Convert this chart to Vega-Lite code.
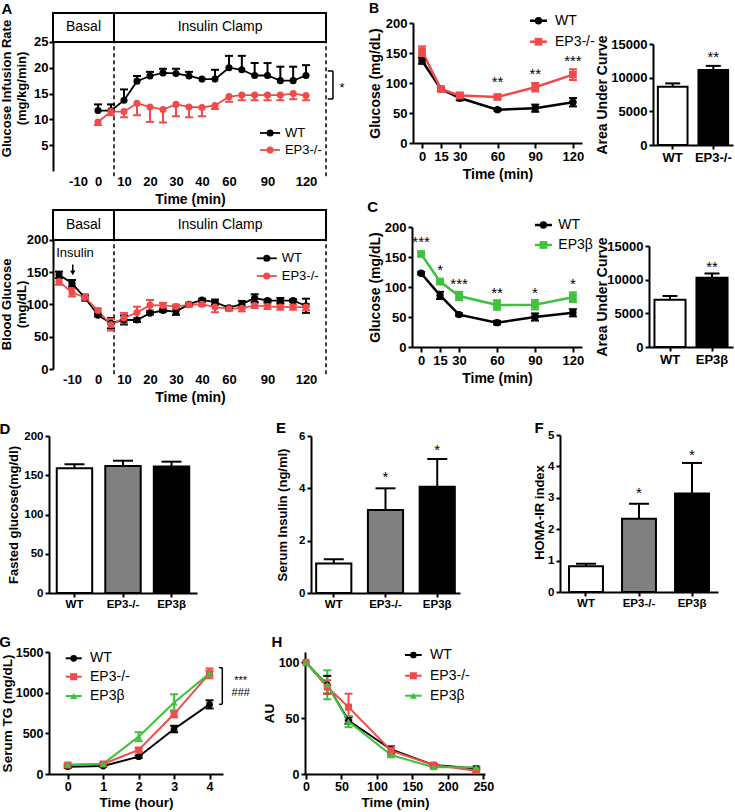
{
"$schema": "https://vega.github.io/schema/vega-lite/v6.json",
"width": 735, "height": 812,
"autosize": {"type": "none"},
"padding": 0,
"background": "white",
"config": {
  "font": "Liberation Sans",
  "view": {"stroke": null},
  "axis": {"grid": false, "labelFont": "Liberation Sans", "labelFontWeight": "bold", "labelColor": "black", "labelFontSize": 13,
    "titleFont": "Liberation Sans", "titleFontWeight": "bold", "titleColor": "black", "titleFontSize": 13,
    "domainColor": "black", "domainWidth": 2, "tickColor": "black", "tickWidth": 2, "tickSize": 4, "labelPadding": 2,
    "labelFlush": false, "labelOverlap": false, "labelBound": false, "minExtent": 0, "maxExtent": 300},
  "text": {"font": "Liberation Sans", "color": "black"}
},
"datasets": {
  "gir": [
    {"t":0,"g":"WT","m":11.7,"lo":11.7,"hi":12.9},{"t":5,"g":"WT","m":11.7,"lo":11.7,"hi":12.9},{"t":10,"g":"WT","m":13.7,"lo":13.7,"hi":15.8},
    {"t":15,"g":"WT","m":17.4,"lo":17.4,"hi":18.4},{"t":20,"g":"WT","m":18.4,"lo":18.4,"hi":19.2},{"t":25,"g":"WT","m":19.0,"lo":19.0,"hi":19.8},
    {"t":30,"g":"WT","m":18.9,"lo":18.9,"hi":19.8},{"t":35,"g":"WT","m":18.4,"lo":18.4,"hi":19.2},{"t":40,"g":"WT","m":17.8,"lo":17.8,"hi":17.8},
    {"t":45,"g":"WT","m":17.8,"lo":17.8,"hi":19.6},{"t":60,"g":"WT","m":20.0,"lo":20.0,"hi":22.3},{"t":70,"g":"WT","m":19.6,"lo":19.6,"hi":22.3},
    {"t":80,"g":"WT","m":18.5,"lo":18.5,"hi":20.9},{"t":90,"g":"WT","m":18.5,"lo":18.5,"hi":20.9},{"t":100,"g":"WT","m":17.5,"lo":17.5,"hi":20.2},
    {"t":110,"g":"WT","m":17.5,"lo":17.5,"hi":20.2},{"t":120,"g":"WT","m":18.5,"lo":18.5,"hi":20.5},
    {"t":0,"g":"EP3-/-","m":9.5,"lo":8.9,"hi":9.5},{"t":5,"g":"EP3-/-","m":11.5,"lo":10.8,"hi":11.5},{"t":10,"g":"EP3-/-","m":11.5,"lo":10.4,"hi":11.5},
    {"t":15,"g":"EP3-/-","m":13.1,"lo":10.8,"hi":13.1},{"t":20,"g":"EP3-/-","m":12.4,"lo":9.5,"hi":12.4},{"t":25,"g":"EP3-/-","m":11.9,"lo":9.4,"hi":11.9},
    {"t":30,"g":"EP3-/-","m":12.9,"lo":10.6,"hi":12.9},{"t":35,"g":"EP3-/-","m":12.4,"lo":10.4,"hi":12.4},{"t":40,"g":"EP3-/-","m":12.3,"lo":10.6,"hi":12.3},
    {"t":45,"g":"EP3-/-","m":12.7,"lo":12.0,"hi":12.7},{"t":60,"g":"EP3-/-","m":14.4,"lo":13.4,"hi":14.4},{"t":70,"g":"EP3-/-","m":14.7,"lo":13.7,"hi":14.7},
    {"t":80,"g":"EP3-/-","m":14.7,"lo":13.7,"hi":14.7},{"t":90,"g":"EP3-/-","m":14.7,"lo":13.7,"hi":14.7},{"t":100,"g":"EP3-/-","m":14.7,"lo":13.7,"hi":14.7},
    {"t":110,"g":"EP3-/-","m":15.0,"lo":13.9,"hi":15.0},{"t":120,"g":"EP3-/-","m":14.6,"lo":13.7,"hi":14.6}
  ],
  "bg": [
    {"t":-15,"g":"WT","m":146,"lo":141,"hi":151},{"t":-10,"g":"WT","m":133,"lo":128,"hi":138},{"t":-5,"g":"WT","m":110,"lo":106,"hi":114},
    {"t":0,"g":"WT","m":83.5,"lo":81.5,"hi":85.5},{"t":5,"g":"WT","m":71,"lo":63,"hi":79},{"t":10,"g":"WT","m":76,"lo":69,"hi":83},
    {"t":15,"g":"WT","m":76,"lo":73,"hi":79},{"t":20,"g":"WT","m":86.6,"lo":84.6,"hi":88.6},{"t":25,"g":"WT","m":90.7,"lo":88.7,"hi":92.7},
    {"t":30,"g":"WT","m":89,"lo":84,"hi":94},{"t":35,"g":"WT","m":100.5,"lo":98.5,"hi":102.5},{"t":40,"g":"WT","m":107,"lo":105,"hi":109},
    {"t":45,"g":"WT","m":103.6,"lo":99.6,"hi":107.6},{"t":60,"g":"WT","m":95,"lo":93,"hi":97},{"t":70,"g":"WT","m":100.5,"lo":95.5,"hi":105.5},
    {"t":80,"g":"WT","m":110,"lo":104,"hi":116},{"t":90,"g":"WT","m":106,"lo":104,"hi":108},{"t":100,"g":"WT","m":106,"lo":102,"hi":110},
    {"t":110,"g":"WT","m":106,"lo":104,"hi":108},{"t":120,"g":"WT","m":98,"lo":87,"hi":109},
    {"t":-15,"g":"EP3-/-","m":135.6,"lo":130.6,"hi":140.6},{"t":-10,"g":"EP3-/-","m":118.6,"lo":112.6,"hi":124.6},{"t":-5,"g":"EP3-/-","m":111,"lo":106,"hi":116},
    {"t":0,"g":"EP3-/-","m":90.7,"lo":87.7,"hi":93.7},{"t":5,"g":"EP3-/-","m":68.6,"lo":59.6,"hi":77.6},{"t":10,"g":"EP3-/-","m":79,"lo":71,"hi":87},
    {"t":15,"g":"EP3-/-","m":87.6,"lo":78.6,"hi":96.6},{"t":20,"g":"EP3-/-","m":99,"lo":91,"hi":107},{"t":25,"g":"EP3-/-","m":98.5,"lo":94.5,"hi":102.5},
    {"t":30,"g":"EP3-/-","m":97,"lo":94,"hi":100},{"t":35,"g":"EP3-/-","m":99.5,"lo":96.5,"hi":102.5},{"t":40,"g":"EP3-/-","m":100.5,"lo":97.5,"hi":103.5},
    {"t":45,"g":"EP3-/-","m":96,"lo":88,"hi":104},{"t":60,"g":"EP3-/-","m":93.3,"lo":90.3,"hi":96.3},{"t":70,"g":"EP3-/-","m":94.3,"lo":89.3,"hi":99.3},
    {"t":80,"g":"EP3-/-","m":98.5,"lo":94.5,"hi":102.5},{"t":90,"g":"EP3-/-","m":97,"lo":93,"hi":101},{"t":100,"g":"EP3-/-","m":96,"lo":92,"hi":100},
    {"t":110,"g":"EP3-/-","m":96,"lo":92,"hi":100},{"t":120,"g":"EP3-/-","m":96,"lo":91,"hi":101}
  ],
  "itt": [
    {"t":0,"g":"WT","m":137,"lo":132,"hi":142},{"t":15,"g":"WT","m":90,"lo":87,"hi":93},{"t":30,"g":"WT","m":75,"lo":71,"hi":79},
    {"t":60,"g":"WT","m":55.6,"lo":53.6,"hi":57.6},{"t":90,"g":"WT","m":58,"lo":52,"hi":64},{"t":120,"g":"WT","m":68,"lo":61,"hi":75},
    {"t":0,"g":"EP3-/-","m":153,"lo":145,"hi":161},{"t":15,"g":"EP3-/-","m":90,"lo":87,"hi":93},{"t":30,"g":"EP3-/-","m":79,"lo":74,"hi":84},
    {"t":60,"g":"EP3-/-","m":76.7,"lo":73.7,"hi":79.7},{"t":90,"g":"EP3-/-","m":93,"lo":86,"hi":100},{"t":120,"g":"EP3-/-","m":114,"lo":105,"hi":123}
  ],
  "ittb": [
    {"t":0,"g":"WT","m":123,"lo":121,"hi":125},{"t":15,"g":"WT","m":86,"lo":80,"hi":92},{"t":30,"g":"WT","m":54,"lo":52,"hi":56},
    {"t":60,"g":"WT","m":40.6,"lo":37.6,"hi":43.6},{"t":90,"g":"WT","m":50,"lo":44,"hi":56},{"t":120,"g":"WT","m":57,"lo":51,"hi":63},
    {"t":0,"g":"EP3β","m":155,"lo":152,"hi":158},{"t":15,"g":"EP3β","m":109,"lo":106,"hi":112},{"t":30,"g":"EP3β","m":85,"lo":78,"hi":92},
    {"t":60,"g":"EP3β","m":70,"lo":62,"hi":78},{"t":90,"g":"EP3β","m":70.5,"lo":62.5,"hi":78.5},{"t":120,"g":"EP3β","m":83,"lo":75,"hi":91}
  ],
  "tg": [
    {"t":0,"g":"WT","m":90,"lo":75,"hi":105},{"t":1,"g":"WT","m":98,"lo":88,"hi":108},{"t":2,"g":"WT","m":213,"lo":198,"hi":228},
    {"t":3,"g":"WT","m":553,"lo":513,"hi":593},{"t":4,"g":"WT","m":856,"lo":806,"hi":906},
    {"t":0,"g":"EP3-/-","m":110,"lo":95,"hi":125},{"t":1,"g":"EP3-/-","m":123,"lo":113,"hi":133},{"t":2,"g":"EP3-/-","m":295,"lo":275,"hi":315},
    {"t":3,"g":"EP3-/-","m":737,"lo":697,"hi":777},{"t":4,"g":"EP3-/-","m":1237,"lo":1177,"hi":1297},
    {"t":0,"g":"EP3β","m":115,"lo":105,"hi":125},{"t":1,"g":"EP3β","m":125,"lo":115,"hi":135},{"t":2,"g":"EP3β","m":459,"lo":404,"hi":514},
    {"t":3,"g":"EP3β","m":880,"lo":780,"hi":980},{"t":4,"g":"EP3β","m":1237,"lo":1207,"hi":1267}
  ],
  "au": [
    {"t":0,"g":"WT","m":100,"lo":100,"hi":100},{"t":30,"g":"WT","m":80,"lo":72,"hi":88},{"t":60,"g":"WT","m":48,"lo":45,"hi":51},
    {"t":120,"g":"WT","m":22,"lo":19,"hi":25},{"t":180,"g":"WT","m":8,"lo":7,"hi":9},{"t":240,"g":"WT","m":5,"lo":4,"hi":6},
    {"t":0,"g":"EP3-/-","m":100,"lo":100,"hi":100},{"t":30,"g":"EP3-/-","m":78,"lo":72,"hi":84},{"t":60,"g":"EP3-/-","m":60,"lo":48,"hi":72},
    {"t":120,"g":"EP3-/-","m":21,"lo":17,"hi":25},{"t":180,"g":"EP3-/-","m":8,"lo":7,"hi":9},{"t":240,"g":"EP3-/-","m":3,"lo":2,"hi":4},
    {"t":0,"g":"EP3β","m":100,"lo":100,"hi":100},{"t":30,"g":"EP3β","m":80,"lo":67,"hi":93},{"t":60,"g":"EP3β","m":47,"lo":42,"hi":52},
    {"t":120,"g":"EP3β","m":17,"lo":15,"hi":19},{"t":180,"g":"EP3β","m":6,"lo":5,"hi":7},{"t":240,"g":"EP3β","m":6,"lo":5,"hi":7}
  ],
  "aucB": [{"g":"WT","m":8650,"hi":9150},{"g":"EP3-/-","m":11150,"hi":11750}],
  "aucC": [{"g":"WT","m":7000,"hi":7580},{"g":"EP3β","m":10300,"hi":10920}],
  "fg": [{"g":"WT","m":159,"hi":164},{"g":"EP3-/-","m":161.8,"hi":168.5},{"g":"EP3β","m":161,"hi":167.3}],
  "ins": [{"g":"WT","m":1.13,"hi":1.29},{"g":"EP3-/-","m":3.17,"hi":4.0},{"g":"EP3β","m":4.06,"hi":5.12}],
  "homa": [{"g":"WT","m":0.82,"hi":0.9},{"g":"EP3-/-","m":2.33,"hi":2.81},{"g":"EP3β","m":3.14,"hi":4.11}]
},
"resolve": {
  "scale": {"x": "independent", "y": "independent", "color": "independent", "stroke": "independent", "fill": "independent"},
  "axis": {"x": "independent", "y": "independent"}
},
"layer": [
{
  "data": {"name": "gir"},
  "layer": [
    {"data": {"values": [{"p":"Basal","s":-22.5,"e":6.15,"c":-7.25},{"p":"Insulin Clamp","s":6.15,"e":135.6,"c":50.4}]},
     "layer": [
      {"mark": {"type":"rect","fill":"white","stroke":"black","strokeWidth":2},
       "encoding": {
        "x": {"field":"s","type":"quantitative","scale":{"type":"linear","domain":[-10,0,45,60,120],"range":[78,98,215,229,306],"nice":false,"zero":false},
              "axis":{"orient":"bottom","offset":-641,"values":[-10,0,10,20,30,40,60,90,120],"labelExpr":"'' + datum.value","domain":false,"ticks":false,"labelPadding":4,"title":"Time (min)","titleFontSize":14,"titlePadding":4,"titleX":190}},
        "x2": {"field":"e"},
        "y": {"datum":25,"type":"quantitative","scale":{"domain":[0,30.6],"range":[171,13],"nice":false,"zero":false},
              "axis":{"orient":"left","offset":-53,"values":[5,10,15,20,25],"title":["Glucose Infusion Rate","(mg/kg/min)"],"titleX":-40,"titleY":88,"labelPadding":1}},
        "y2": {"datum":30.6}}},
      {"mark": {"type":"text","fontSize":14,"baseline":"middle"},
       "encoding": {"x":{"field":"c","type":"quantitative"},"y":{"datum":27.8,"type":"quantitative"},"text":{"field":"p"}}}
     ]},
    {"data": {"values":[{}]}, "mark": {"type":"rule","strokeDash":[4,3],"strokeWidth":1.5,"color":"black"},
     "encoding": {"x":{"datum":6.15,"type":"quantitative"},"y":{"datum":-1,"type":"quantitative"},"y2":{"datum":25}}},
    {"data": {"values":[{}]}, "mark": {"type":"rule","strokeDash":[4,3],"strokeWidth":1.5,"color":"black"},
     "encoding": {"x":{"datum":135.6,"type":"quantitative"},"y":{"datum":-1,"type":"quantitative"},"y2":{"datum":25}}},
    {"mark": {"type":"rule","strokeWidth":2},
     "encoding": {"x":{"field":"t","type":"quantitative"},"y":{"field":"lo","type":"quantitative"},"y2":{"field":"hi"},
      "stroke":{"field":"g","type":"nominal","scale":{"domain":["WT","EP3-/-"],"range":["black","#ef4b4b"]},"legend":null}}},
    {"transform":[{"filter":"datum.hi > datum.m"}],"mark": {"type":"tick","orient":"horizontal","size":8,"thickness":2,"opacity":1},
     "encoding": {"x":{"field":"t","type":"quantitative"},"y":{"field":"hi","type":"quantitative"},
      "fill":{"field":"g","type":"nominal","scale":{"domain":["WT","EP3-/-"],"range":["black","#ef4b4b"]},"legend":null}}},
    {"transform":[{"filter":"datum.lo < datum.m"}],"mark": {"type":"tick","orient":"horizontal","size":8,"thickness":2,"opacity":1},
     "encoding": {"x":{"field":"t","type":"quantitative"},"y":{"field":"lo","type":"quantitative"},
      "fill":{"field":"g","type":"nominal","scale":{"domain":["WT","EP3-/-"],"range":["black","#ef4b4b"]},"legend":null}}},
    {"mark": {"type":"line","strokeWidth":1.8},
     "encoding": {"x":{"field":"t","type":"quantitative"},"y":{"field":"m","type":"quantitative"},
      "stroke":{"field":"g","type":"nominal","scale":{"domain":["WT","EP3-/-"],"range":["black","#ef4b4b"]},"legend":null}}},
    {"mark": {"type":"point","filled":true,"shape":"circle","size":50,"opacity":1},
     "encoding": {"x":{"field":"t","type":"quantitative"},"y":{"field":"m","type":"quantitative"},
      "color":{"field":"g","type":"nominal","scale":{"domain":["WT","EP3-/-"],"range":["black","#ef4b4b"]},"legend":null}}},
    {"data": {"values":[{}]}, "encoding": {"y":{"datum":7.36,"type":"quantitative"}}, "layer": [
      {"mark":{"type":"rule","color":"black","strokeWidth":1.8},"encoding":{"x":{"datum":84.2,"type":"quantitative"},"x2":{"datum":99.8}}},
      {"mark":{"type":"point","shape":"circle","filled":true,"size":50,"color":"black","opacity":1},"encoding":{"x":{"datum":92,"type":"quantitative"}}},
      {"mark":{"type":"text","align":"left","baseline":"middle","fontSize":13},"encoding":{"x":{"datum":103.6,"type":"quantitative"},"text":{"value":"WT"}}}
    ]},
    {"data": {"values":[{}]}, "encoding": {"y":{"datum":4.07,"type":"quantitative"}}, "layer": [
      {"mark":{"type":"rule","color":"#ef4b4b","strokeWidth":1.8},"encoding":{"x":{"datum":84.2,"type":"quantitative"},"x2":{"datum":99.8}}},
      {"mark":{"type":"point","shape":"circle","filled":true,"size":50,"color":"#ef4b4b","opacity":1},"encoding":{"x":{"datum":92,"type":"quantitative"}}},
      {"mark":{"type":"text","align":"left","baseline":"middle","fontSize":13},"encoding":{"x":{"datum":103.6,"type":"quantitative"},"text":{"value":"EP3-/-"}}}
    ]},
    {"data": {"values":[{}]}, "mark": {"type":"rule","strokeWidth":1.5,"color":"black"},
     "encoding": {"x":{"datum":141,"type":"quantitative"},"y":{"datum":13.95,"type":"quantitative"},"y2":{"datum":19.37}}},
    {"data": {"values":[{}]}, "mark": {"type":"rule","strokeWidth":1.5,"color":"black"},
     "encoding": {"x":{"datum":137,"type":"quantitative"},"x2":{"datum":141},"y":{"datum":19.37,"type":"quantitative"}}},
    {"data": {"values":[{}]}, "mark": {"type":"rule","strokeWidth":1.5,"color":"black"},
     "encoding": {"x":{"datum":137,"type":"quantitative"},"x2":{"datum":141},"y":{"datum":13.95,"type":"quantitative"}}},
    {"data": {"values":[{}]}, "mark": {"type":"text","fontSize":13,"baseline":"middle","dy":4},
     "encoding": {"x":{"datum":148,"type":"quantitative"},"y":{"datum":16.9,"type":"quantitative"},"text":{"value":"*"}}},
    {"data": {"values":[{}]}, "mark": {"type":"text","fontSize":15,"fontWeight":"bold","baseline":"middle"},
     "encoding": {"x":{"datum":-45.5,"type":"quantitative"},"y":{"datum":31.4,"type":"quantitative"},"text":{"value":"A"}}}
  ]
},
{
  "data": {"name": "bg"},
  "layer": [
    {"data": {"values": [{"p":"Basal","s":-17.3,"e":6.15,"c":-5.6},{"p":"Insulin Clamp","s":6.15,"e":135.6,"c":50.4}]},
     "layer": [
      {"mark": {"type":"rect","fill":"white","stroke":"black","strokeWidth":2},
       "encoding": {
        "x": {"field":"s","type":"quantitative","scale":{"type":"linear","domain":[-15,0,45,60,120],"range":[59,98,215,229,306],"nice":false,"zero":false},
              "axis":{"orient":"bottom","offset":-443,"values":[-10,0,10,20,30,40,60,90,120],"labelExpr":"'' + datum.value","domain":false,"ticks":false,"labelPadding":4,"title":"Time (min)","titleFontSize":14,"titlePadding":4,"titleX":190}},
        "x2": {"field":"e"},
        "y": {"datum":200,"type":"quantitative","scale":{"domain":[0,246.5],"range":[369,210],"nice":false,"zero":false},
              "axis":{"orient":"left","offset":-53,"values":[0,50,100,150,200],"title":["Blood Glucose","(mg/dL)"],"titleX":-40,"titleY":304,"labelPadding":1}},
        "y2": {"datum":246.5}}},
      {"mark": {"type":"text","fontSize":14,"baseline":"middle"},
       "encoding": {"x":{"field":"c","type":"quantitative"},"y":{"datum":223,"type":"quantitative"},"text":{"field":"p"}}}
     ]},
    {"data": {"values":[{}]}, "mark": {"type":"rule","strokeDash":[4,3],"strokeWidth":1.5,"color":"black"},
     "encoding": {"x":{"datum":6.15,"type":"quantitative"},"y":{"datum":-8,"type":"quantitative"},"y2":{"datum":200}}},
    {"data": {"values":[{}]}, "mark": {"type":"rule","strokeDash":[4,3],"strokeWidth":1.5,"color":"black"},
     "encoding": {"x":{"datum":135.6,"type":"quantitative"},"y":{"datum":-8,"type":"quantitative"},"y2":{"datum":200}}},
    {"mark": {"type":"rule","strokeWidth":2},
     "encoding": {"x":{"field":"t","type":"quantitative"},"y":{"field":"lo","type":"quantitative"},"y2":{"field":"hi"},
      "stroke":{"field":"g","type":"nominal","scale":{"domain":["WT","EP3-/-"],"range":["black","#ef4b4b"]},"legend":null}}},
    {"transform":[{"filter":"datum.hi > datum.m"}],"mark": {"type":"tick","orient":"horizontal","size":8,"thickness":2,"opacity":1},
     "encoding": {"x":{"field":"t","type":"quantitative"},"y":{"field":"hi","type":"quantitative"},
      "fill":{"field":"g","type":"nominal","scale":{"domain":["WT","EP3-/-"],"range":["black","#ef4b4b"]},"legend":null}}},
    {"transform":[{"filter":"datum.lo < datum.m"}],"mark": {"type":"tick","orient":"horizontal","size":8,"thickness":2,"opacity":1},
     "encoding": {"x":{"field":"t","type":"quantitative"},"y":{"field":"lo","type":"quantitative"},
      "fill":{"field":"g","type":"nominal","scale":{"domain":["WT","EP3-/-"],"range":["black","#ef4b4b"]},"legend":null}}},
    {"mark": {"type":"line","strokeWidth":1.8},
     "encoding": {"x":{"field":"t","type":"quantitative"},"y":{"field":"m","type":"quantitative"},
      "stroke":{"field":"g","type":"nominal","scale":{"domain":["WT","EP3-/-"],"range":["black","#ef4b4b"]},"legend":null}}},
    {"mark": {"type":"point","filled":true,"shape":"circle","size":50,"opacity":1},
     "encoding": {"x":{"field":"t","type":"quantitative"},"y":{"field":"m","type":"quantitative"},
      "color":{"field":"g","type":"nominal","scale":{"domain":["WT","EP3-/-"],"range":["black","#ef4b4b"]},"legend":null}}},
    {"data": {"values":[{}]}, "encoding": {"y":{"datum":171.6,"type":"quantitative"}}, "layer": [
      {"mark":{"type":"rule","color":"black","strokeWidth":1.8},"encoding":{"x":{"datum":81.6,"type":"quantitative"},"x2":{"datum":97.2}}},
      {"mark":{"type":"point","shape":"circle","filled":true,"size":50,"color":"black","opacity":1},"encoding":{"x":{"datum":89.4,"type":"quantitative"}}},
      {"mark":{"type":"text","align":"left","baseline":"middle","fontSize":13},"encoding":{"x":{"datum":101.1,"type":"quantitative"},"text":{"value":"WT"}}}
    ]},
    {"data": {"values":[{}]}, "encoding": {"y":{"datum":144.2,"type":"quantitative"}}, "layer": [
      {"mark":{"type":"rule","color":"#ef4b4b","strokeWidth":1.8},"encoding":{"x":{"datum":81.6,"type":"quantitative"},"x2":{"datum":97.2}}},
      {"mark":{"type":"point","shape":"circle","filled":true,"size":50,"color":"#ef4b4b","opacity":1},"encoding":{"x":{"datum":89.4,"type":"quantitative"}}},
      {"mark":{"type":"text","align":"left","baseline":"middle","fontSize":13},"encoding":{"x":{"datum":101.1,"type":"quantitative"},"text":{"value":"EP3-/-"}}}
    ]},
    {"data": {"values":[{}]}, "mark": {"type":"text","fontSize":13,"baseline":"middle"},
     "encoding": {"x":{"datum":-8.85,"type":"quantitative"},"y":{"datum":179.4,"type":"quantitative"},"text":{"value":"Insulin"}}},
    {"data": {"values":[{}]}, "mark": {"type":"rule","strokeWidth":1.5,"color":"black"},
     "encoding": {"x":{"datum":-9.7,"type":"quantitative"},"y":{"datum":162,"type":"quantitative"},"y2":{"datum":150}}},
    {"data": {"values":[{}]}, "mark": {"type":"point","shape":"triangle-down","filled":true,"size":28,"color":"black","opacity":1},
     "encoding": {"x":{"datum":-9.7,"type":"quantitative"},"y":{"datum":149,"type":"quantitative"}}}
  ]
},
{
  "data": {"name": "itt"},
  "layer": [
    {"mark": {"type":"rule","strokeWidth":2},
     "encoding": {
      "x":{"field":"t","type":"quantitative","scale":{"domain":[-7.2,127.2],"range":[413,582],"nice":false,"zero":false},
           "axis":{"orient":"bottom","offset":-669,"values":[0,15,30,60,90,120],"title":"Time (min)","tickSize":5,"labelPadding":2,"titleFontSize":14,"titlePadding":4}},
      "y":{"field":"lo","type":"quantitative","scale":{"domain":[0,200],"range":[143,23],"nice":false,"zero":false},
           "axis":{"orient":"left","offset":-413,"values":[0,50,100,150,200],"title":"Glucose (mg/dL)","titleX":-31,"titleFontSize":14}},
      "y2":{"field":"hi"},
      "stroke":{"field":"g","type":"nominal","scale":{"domain":["WT","EP3-/-"],"range":["black","#ef4b4b"]},"legend":null}}},
    {"transform":[{"filter":"datum.hi > datum.m"}],"mark": {"type":"tick","orient":"horizontal","size":8,"thickness":2,"opacity":1},
     "encoding": {"x":{"field":"t","type":"quantitative"},"y":{"field":"hi","type":"quantitative"},
      "fill":{"field":"g","type":"nominal","scale":{"domain":["WT","EP3-/-"],"range":["black","#ef4b4b"]},"legend":null}}},
    {"transform":[{"filter":"datum.lo < datum.m"}],"mark": {"type":"tick","orient":"horizontal","size":8,"thickness":2,"opacity":1},
     "encoding": {"x":{"field":"t","type":"quantitative"},"y":{"field":"lo","type":"quantitative"},
      "fill":{"field":"g","type":"nominal","scale":{"domain":["WT","EP3-/-"],"range":["black","#ef4b4b"]},"legend":null}}},
    {"mark": {"type":"line","strokeWidth":2.5},
     "encoding": {"x":{"field":"t","type":"quantitative"},"y":{"field":"m","type":"quantitative"},
      "stroke":{"field":"g","type":"nominal","scale":{"domain":["WT","EP3-/-"],"range":["black","#ef4b4b"]},"legend":null}}},
    {"transform":[{"filter":"datum.g == 'WT'"}],"mark": {"type":"point","filled":true,"shape":"circle","size":55,"opacity":1},
     "encoding": {"x":{"field":"t","type":"quantitative"},"y":{"field":"m","type":"quantitative"},
      "color":{"field":"g","type":"nominal","scale":{"domain":["WT","EP3-/-"],"range":["black","#ef4b4b"]},"legend":null}}},
    {"transform":[{"filter":"datum.g != 'WT'"}],"mark": {"type":"point","filled":true,"shape":"square","size":60,"opacity":1},
     "encoding": {"x":{"field":"t","type":"quantitative"},"y":{"field":"m","type":"quantitative"},
      "color":{"field":"g","type":"nominal","scale":{"domain":["WT","EP3-/-"],"range":["black","#ef4b4b"]},"legend":null}}},
    {"data": {"values":[{}]}, "encoding": {"y":{"datum":203.8,"type":"quantitative"}}, "layer": [
      {"mark":{"type":"rule","color":"black","strokeWidth":2.5},"encoding":{"x":{"datum":85.8,"type":"quantitative"},"x2":{"datum":99.3}}},
      {"mark":{"type":"point","shape":"circle","filled":true,"size":55,"color":"black","opacity":1},"encoding":{"x":{"datum":92.6,"type":"quantitative"}}},
      {"mark":{"type":"text","align":"left","baseline":"middle","fontSize":14},"encoding":{"x":{"datum":105.7,"type":"quantitative"},"text":{"value":"WT"}}}
    ]},
    {"data": {"values":[{}]}, "encoding": {"y":{"datum":168.8,"type":"quantitative"}}, "layer": [
      {"mark":{"type":"rule","color":"#ef4b4b","strokeWidth":2.5},"encoding":{"x":{"datum":85.8,"type":"quantitative"},"x2":{"datum":99.3}}},
      {"mark":{"type":"point","shape":"square","filled":true,"size":60,"color":"#ef4b4b","opacity":1},"encoding":{"x":{"datum":92.6,"type":"quantitative"}}},
      {"mark":{"type":"text","align":"left","baseline":"middle","fontSize":14},"encoding":{"x":{"datum":105.7,"type":"quantitative"},"text":{"value":"EP3-/-"}}}
    ]},
    {"data": {"values":[{"t":60,"v":108,"s":"**"},{"t":90,"v":122,"s":"**"},{"t":120,"v":143,"s":"***"}]},
     "mark": {"type":"text","fontSize":15,"baseline":"middle","dy":4},
     "encoding": {"x":{"field":"t","type":"quantitative"},"y":{"field":"v","type":"quantitative"},"text":{"field":"s"}}},
    {"data": {"values":[{}]}, "mark": {"type":"text","fontSize":14,"fontWeight":"bold","baseline":"middle"},
     "encoding": {"x":{"datum":-38.2,"type":"quantitative"},"y":{"datum":223,"type":"quantitative"},"text":{"value":"B"}}}
  ]
},
{
  "data": {"name": "aucB"},
  "layer": [
    {"mark": {"type":"rule","strokeWidth":2,"color":"black"},
     "encoding": {
      "x":{"field":"g","type":"nominal","scale":{"type":"band","domain":["WT","EP3-/-"],"range":[653,733],"paddingInner":0.27,"paddingOuter":0.12},
           "axis":{"orient":"bottom","offset":-667,"title":null,"labelAngle":0,"tickSize":4,"labelPadding":2}},
      "y":{"field":"m","type":"quantitative","scale":{"domain":[0,15000],"range":[145,44],"nice":false,"zero":false},
           "axis":{"orient":"left","offset":-653,"values":[0,5000,10000,15000],"format":"d","title":"Area Under Curve","titleX":-44,"titleFontSize":14}},
      "y2":{"field":"hi"}}},
    {"mark": {"type":"tick","orient":"horizontal","size":15,"thickness":2,"color":"black","opacity":1},
     "encoding": {"x":{"field":"g","type":"nominal"},"y":{"field":"hi","type":"quantitative"}}},
    {"mark": {"type":"bar","stroke":"black","strokeWidth":2},
     "encoding": {"x":{"field":"g","type":"nominal"},"y":{"field":"m","type":"quantitative"},
      "color":{"field":"g","type":"nominal","scale":{"domain":["WT","EP3-/-"],"range":["white","black"]},"legend":null}}},
    {"data": {"values":[{"g":"EP3-/-","v":13614,"s":"**"}]},
     "mark": {"type":"text","fontSize":15,"baseline":"middle","dy":4},
     "encoding": {"x":{"field":"g","type":"nominal"},"y":{"field":"v","type":"quantitative"},"text":{"field":"s"}}}
  ]
},
{
  "data": {"name": "ittb"},
  "layer": [
    {"mark": {"type":"rule","strokeWidth":2},
     "encoding": {
      "x":{"field":"t","type":"quantitative","scale":{"domain":[-7.2,127.2],"range":[412,582],"nice":false,"zero":false},
           "axis":{"orient":"bottom","offset":-465,"values":[0,15,30,60,90,120],"title":"Time (min)","tickSize":5,"labelPadding":2,"titleFontSize":14,"titlePadding":4}},
      "y":{"field":"lo","type":"quantitative","scale":{"domain":[0,200],"range":[347,227],"nice":false,"zero":false},
           "axis":{"orient":"left","offset":-412,"values":[0,50,100,150,200],"title":"Glucose (mg/dL)","titleX":-30,"titleFontSize":14}},
      "y2":{"field":"hi"},
      "stroke":{"field":"g","type":"nominal","scale":{"domain":["WT","EP3β"],"range":["black","#3ec23e"]},"legend":null}}},
    {"transform":[{"filter":"datum.hi > datum.m"}],"mark": {"type":"tick","orient":"horizontal","size":8,"thickness":2,"opacity":1},
     "encoding": {"x":{"field":"t","type":"quantitative"},"y":{"field":"hi","type":"quantitative"},
      "fill":{"field":"g","type":"nominal","scale":{"domain":["WT","EP3β"],"range":["black","#3ec23e"]},"legend":null}}},
    {"transform":[{"filter":"datum.lo < datum.m"}],"mark": {"type":"tick","orient":"horizontal","size":8,"thickness":2,"opacity":1},
     "encoding": {"x":{"field":"t","type":"quantitative"},"y":{"field":"lo","type":"quantitative"},
      "fill":{"field":"g","type":"nominal","scale":{"domain":["WT","EP3β"],"range":["black","#3ec23e"]},"legend":null}}},
    {"mark": {"type":"line","strokeWidth":2.5},
     "encoding": {"x":{"field":"t","type":"quantitative"},"y":{"field":"m","type":"quantitative"},
      "stroke":{"field":"g","type":"nominal","scale":{"domain":["WT","EP3β"],"range":["black","#3ec23e"]},"legend":null}}},
    {"transform":[{"filter":"datum.g == 'WT'"}],"mark": {"type":"point","filled":true,"shape":"circle","size":55,"opacity":1},
     "encoding": {"x":{"field":"t","type":"quantitative"},"y":{"field":"m","type":"quantitative"},
      "color":{"field":"g","type":"nominal","scale":{"domain":["WT","EP3β"],"range":["black","#3ec23e"]},"legend":null}}},
    {"transform":[{"filter":"datum.g != 'WT'"}],"mark": {"type":"point","filled":true,"shape":"square","size":60,"opacity":1},
     "encoding": {"x":{"field":"t","type":"quantitative"},"y":{"field":"m","type":"quantitative"},
      "color":{"field":"g","type":"nominal","scale":{"domain":["WT","EP3β"],"range":["black","#3ec23e"]},"legend":null}}},
    {"data": {"values":[{}]}, "encoding": {"y":{"datum":203.3,"type":"quantitative"}}, "layer": [
      {"mark":{"type":"rule","color":"black","strokeWidth":2.5},"encoding":{"x":{"datum":90.0,"type":"quantitative"},"x2":{"datum":103.4}}},
      {"mark":{"type":"point","shape":"circle","filled":true,"size":55,"color":"black","opacity":1},"encoding":{"x":{"datum":96.7,"type":"quantitative"}}},
      {"mark":{"type":"text","align":"left","baseline":"middle","fontSize":14},"encoding":{"x":{"datum":108.5,"type":"quantitative"},"text":{"value":"WT"}}}
    ]},
    {"data": {"values":[{}]}, "encoding": {"y":{"datum":170,"type":"quantitative"}}, "layer": [
      {"mark":{"type":"rule","color":"#3ec23e","strokeWidth":2.5},"encoding":{"x":{"datum":90.0,"type":"quantitative"},"x2":{"datum":103.4}}},
      {"mark":{"type":"point","shape":"square","filled":true,"size":60,"color":"#3ec23e","opacity":1},"encoding":{"x":{"datum":96.7,"type":"quantitative"}}},
      {"mark":{"type":"text","align":"left","baseline":"middle","fontSize":14},"encoding":{"x":{"datum":108.5,"type":"quantitative"},"text":{"value":"EP3β"}}}
    ]},
    {"data": {"values":[{"t":0,"v":182,"s":"***"},{"t":15,"v":135,"s":"*"},{"t":30,"v":111,"s":"***"},{"t":60,"v":97,"s":"**"},{"t":90,"v":97,"s":"*"},{"t":120,"v":111,"s":"*"}]},
     "mark": {"type":"text","fontSize":15,"baseline":"middle","dy":4},
     "encoding": {"x":{"field":"t","type":"quantitative"},"y":{"field":"v","type":"quantitative"},"text":{"field":"s"}}},
    {"data": {"values":[{}]}, "mark": {"type":"text","fontSize":15,"fontWeight":"bold","baseline":"middle"},
     "encoding": {"x":{"datum":-38.2,"type":"quantitative"},"y":{"datum":233,"type":"quantitative"},"text":{"value":"C"}}}
  ]
},
{
  "data": {"name": "aucC"},
  "layer": [
    {"mark": {"type":"rule","strokeWidth":2,"color":"black"},
     "encoding": {
      "x":{"field":"g","type":"nominal","scale":{"type":"band","domain":["WT","EP3β"],"range":[649,733],"paddingInner":0.26,"paddingOuter":0.13},
           "axis":{"orient":"bottom","offset":-465,"title":null,"labelAngle":0,"tickSize":4,"labelPadding":2}},
      "y":{"field":"m","type":"quantitative","scale":{"domain":[0,15000],"range":[347,246],"nice":false,"zero":false},
           "axis":{"orient":"left","offset":-649,"values":[0,5000,10000,15000],"format":"d","title":"Area Under Curve","titleX":-40,"titleFontSize":14}},
      "y2":{"field":"hi"}}},
    {"mark": {"type":"tick","orient":"horizontal","size":15,"thickness":2,"color":"black","opacity":1},
     "encoding": {"x":{"field":"g","type":"nominal"},"y":{"field":"hi","type":"quantitative"}}},
    {"mark": {"type":"bar","stroke":"black","strokeWidth":2},
     "encoding": {"x":{"field":"g","type":"nominal"},"y":{"field":"m","type":"quantitative"},
      "color":{"field":"g","type":"nominal","scale":{"domain":["WT","EP3β"],"range":["white","black"]},"legend":null}}},
    {"data": {"values":[{"g":"EP3β","v":12546,"s":"**"}]},
     "mark": {"type":"text","fontSize":15,"baseline":"middle","dy":4},
     "encoding": {"x":{"field":"g","type":"nominal"},"y":{"field":"v","type":"quantitative"},"text":{"field":"s"}}}
  ]
},
{
  "data": {"name": "fg"},
  "layer": [
    {"mark": {"type":"rule","strokeWidth":2,"color":"black"},
     "encoding": {
      "x":{"field":"g","type":"nominal","scale":{"type":"band","domain":["WT","EP3-/-","EP3β"],"range":[49,197],"paddingInner":0.27,"paddingOuter":0.16},
           "axis":{"orient":"bottom","offset":-219,"title":null,"labelAngle":0,"tickSize":4,"labelPadding":1,"labelFontSize":11.5}},
      "y":{"field":"m","type":"quantitative","scale":{"domain":[0,200],"range":[593,436],"nice":false,"zero":false},
           "axis":{"orient":"left","offset":-49,"values":[0,50,100,150,200],"format":"d","title":"Fasted glucose(mg/dl)","titleX":-29,"labelFontSize":11.5,"titleFontSize":13}},
      "y2":{"field":"hi"}}},
    {"mark": {"type":"tick","orient":"horizontal","size":20,"thickness":2,"color":"black","opacity":1},
     "encoding": {"x":{"field":"g","type":"nominal"},"y":{"field":"hi","type":"quantitative"}}},
    {"mark": {"type":"bar","stroke":"black","strokeWidth":2},
     "encoding": {"x":{"field":"g","type":"nominal"},"y":{"field":"m","type":"quantitative"},
      "color":{"field":"g","type":"nominal","scale":{"domain":["WT","EP3-/-","EP3β"],"range":["white","#808080","black"]},"legend":null}}}
  ]
},
{
  "data": {"name": "ins"},
  "layer": [
    {"mark": {"type":"rule","strokeWidth":2,"color":"black"},
     "encoding": {
      "x":{"field":"g","type":"nominal","scale":{"type":"band","domain":["WT","EP3-/-","EP3β"],"range":[311,460],"paddingInner":0.32,"paddingOuter":0.1},
           "axis":{"orient":"bottom","offset":-219,"title":null,"labelAngle":0,"tickSize":4,"labelPadding":1,"labelFontSize":11.5}},
      "y":{"field":"m","type":"quantitative","scale":{"domain":[0,6],"range":[593,436],"nice":false,"zero":false},
           "axis":{"orient":"left","offset":-311,"values":[0,2,4,6],"format":"d","title":"Serum Insulin (ng/ml)","titleX":-22,"labelFontSize":11.5,"titleFontSize":13}},
      "y2":{"field":"hi"}}},
    {"mark": {"type":"tick","orient":"horizontal","size":20,"thickness":2,"color":"black","opacity":1},
     "encoding": {"x":{"field":"g","type":"nominal"},"y":{"field":"hi","type":"quantitative"}}},
    {"mark": {"type":"bar","stroke":"black","strokeWidth":2},
     "encoding": {"x":{"field":"g","type":"nominal"},"y":{"field":"m","type":"quantitative"},
      "color":{"field":"g","type":"nominal","scale":{"domain":["WT","EP3-/-","EP3β"],"range":["white","#808080","black"]},"legend":null}}},
    {"data": {"values":[{"g":"EP3-/-","v":4.57,"s":"*"},{"g":"EP3β","v":5.62,"s":"*"}]},
     "mark": {"type":"text","fontSize":15,"baseline":"middle","dy":4},
     "encoding": {"x":{"field":"g","type":"nominal"},"y":{"field":"v","type":"quantitative"},"text":{"field":"s"}}}
  ]
},
{
  "data": {"name": "homa"},
  "layer": [
    {"mark": {"type":"rule","strokeWidth":2,"color":"black"},
     "encoding": {
      "x":{"field":"g","type":"nominal","scale":{"type":"band","domain":["WT","EP3-/-","EP3β"],"range":[560,718],"paddingInner":0.36,"paddingOuter":0.17},
           "axis":{"orient":"bottom","offset":-220,"title":null,"labelAngle":0,"tickSize":4,"labelPadding":1,"labelFontSize":11.5}},
      "y":{"field":"m","type":"quantitative","scale":{"domain":[0,5],"range":[592,435],"nice":false,"zero":false},
           "axis":{"orient":"left","offset":-560,"values":[0,1,2,3,4,5],"format":"d","title":"HOMA-IR index","titleX":-14,"titleY":512,"labelFontSize":11.5,"titleFontSize":13}},
      "y2":{"field":"hi"}}},
    {"mark": {"type":"tick","orient":"horizontal","size":20,"thickness":2,"color":"black","opacity":1},
     "encoding": {"x":{"field":"g","type":"nominal"},"y":{"field":"hi","type":"quantitative"}}},
    {"mark": {"type":"bar","stroke":"black","strokeWidth":2},
     "encoding": {"x":{"field":"g","type":"nominal"},"y":{"field":"m","type":"quantitative"},
      "color":{"field":"g","type":"nominal","scale":{"domain":["WT","EP3-/-","EP3β"],"range":["white","#808080","black"]},"legend":null}}},
    {"data": {"values":[{"g":"EP3-/-","v":3.28,"s":"*"},{"g":"EP3β","v":4.5,"s":"*"}]},
     "mark": {"type":"text","fontSize":15,"baseline":"middle","dy":4},
     "encoding": {"x":{"field":"g","type":"nominal"},"y":{"field":"v","type":"quantitative"},"text":{"field":"s"}}}
  ]
},
{
  "data": {"name": "tg"},
  "layer": [
    {"mark": {"type":"rule","strokeWidth":2},
     "encoding": {
      "x":{"field":"t","type":"quantitative","scale":{"domain":[-0.53,4.38],"range":[49,223],"nice":false,"zero":false},
           "axis":{"orient":"bottom","offset":-38,"values":[0,1,2,3,4],"format":"d","title":"Time (hour)","tickSize":5,"labelPadding":1,"labelFontSize":12.5,"titleFontSize":13.5,"titlePadding":3}},
      "y":{"field":"lo","type":"quantitative","scale":{"domain":[0,1500],"range":[774,652],"nice":false,"zero":false},
           "axis":{"orient":"left","offset":-49,"values":[0,500,1000,1500],"format":"d","title":"Serum TG (mg/dL)","titleX":-35,"labelFontSize":12.5,"titleFontSize":13.5}},
      "y2":{"field":"hi"},
      "stroke":{"field":"g","type":"nominal","scale":{"domain":["WT","EP3-/-","EP3β"],"range":["black","#ef4b4b","#3ec23e"]},"legend":null}}},
    {"transform":[{"filter":"datum.hi > datum.m"}],"mark": {"type":"tick","orient":"horizontal","size":8,"thickness":2,"opacity":1},
     "encoding": {"x":{"field":"t","type":"quantitative"},"y":{"field":"hi","type":"quantitative"},
      "fill":{"field":"g","type":"nominal","scale":{"domain":["WT","EP3-/-","EP3β"],"range":["black","#ef4b4b","#3ec23e"]},"legend":null}}},
    {"transform":[{"filter":"datum.lo < datum.m"}],"mark": {"type":"tick","orient":"horizontal","size":8,"thickness":2,"opacity":1},
     "encoding": {"x":{"field":"t","type":"quantitative"},"y":{"field":"lo","type":"quantitative"},
      "fill":{"field":"g","type":"nominal","scale":{"domain":["WT","EP3-/-","EP3β"],"range":["black","#ef4b4b","#3ec23e"]},"legend":null}}},
    {"mark": {"type":"line","strokeWidth":2},
     "encoding": {"x":{"field":"t","type":"quantitative"},"y":{"field":"m","type":"quantitative"},
      "stroke":{"field":"g","type":"nominal","scale":{"domain":["WT","EP3-/-","EP3β"],"range":["black","#ef4b4b","#3ec23e"]},"legend":null}}},
    {"transform":[{"filter":"datum.g == 'WT'"}],"mark": {"type":"point","filled":true,"shape":"circle","size":45,"opacity":1},
     "encoding": {"x":{"field":"t","type":"quantitative"},"y":{"field":"m","type":"quantitative"},
      "color":{"field":"g","type":"nominal","scale":{"domain":["WT","EP3-/-","EP3β"],"range":["black","#ef4b4b","#3ec23e"]},"legend":null}}},
    {"transform":[{"filter":"datum.g == 'EP3-/-'"}],"mark": {"type":"point","filled":true,"shape":"square","size":50,"opacity":1},
     "encoding": {"x":{"field":"t","type":"quantitative"},"y":{"field":"m","type":"quantitative"},
      "color":{"field":"g","type":"nominal","scale":{"domain":["WT","EP3-/-","EP3β"],"range":["black","#ef4b4b","#3ec23e"]},"legend":null}}},
    {"transform":[{"filter":"datum.g == 'EP3β'"}],"mark": {"type":"point","filled":true,"shape":"triangle-up","size":50,"opacity":1},
     "encoding": {"x":{"field":"t","type":"quantitative"},"y":{"field":"m","type":"quantitative"},
      "color":{"field":"g","type":"nominal","scale":{"domain":["WT","EP3-/-","EP3β"],"range":["black","#ef4b4b","#3ec23e"]},"legend":null}}},
    {"data": {"values":[{}]}, "encoding": {"y":{"datum":1422.5,"type":"quantitative"}}, "layer": [
      {"mark":{"type":"rule","color":"black","strokeWidth":2},"encoding":{"x":{"datum":-0.059,"type":"quantitative"},"x2":{"datum":0.393}}},
      {"mark":{"type":"point","shape":"circle","filled":true,"size":45,"color":"black","opacity":1},"encoding":{"x":{"datum":0.167,"type":"quantitative"}}},
      {"mark":{"type":"text","align":"left","baseline":"middle","fontSize":14},"encoding":{"x":{"datum":0.627,"type":"quantitative"},"text":{"value":"WT"}}}
    ]},
    {"data": {"values":[{}]}, "encoding": {"y":{"datum":1196.3,"type":"quantitative"}}, "layer": [
      {"mark":{"type":"rule","color":"#ef4b4b","strokeWidth":2},"encoding":{"x":{"datum":-0.059,"type":"quantitative"},"x2":{"datum":0.393}}},
      {"mark":{"type":"point","shape":"square","filled":true,"size":50,"color":"#ef4b4b","opacity":1},"encoding":{"x":{"datum":0.167,"type":"quantitative"}}},
      {"mark":{"type":"text","align":"left","baseline":"middle","fontSize":14},"encoding":{"x":{"datum":0.627,"type":"quantitative"},"text":{"value":"EP3-/-"}}}
    ]},
    {"data": {"values":[{}]}, "encoding": {"y":{"datum":959,"type":"quantitative"}}, "layer": [
      {"mark":{"type":"rule","color":"#3ec23e","strokeWidth":2},"encoding":{"x":{"datum":-0.059,"type":"quantitative"},"x2":{"datum":0.393}}},
      {"mark":{"type":"point","shape":"triangle-up","filled":true,"size":50,"color":"#3ec23e","opacity":1},"encoding":{"x":{"datum":0.167,"type":"quantitative"}}},
      {"mark":{"type":"text","align":"left","baseline":"middle","fontSize":14},"encoding":{"x":{"datum":0.627,"type":"quantitative"},"text":{"value":"EP3β"}}}
    ]},
    {"data": {"values":[{}]}, "mark": {"type":"rule","strokeWidth":1.5,"color":"black"},
     "encoding": {"x":{"datum":4.36,"type":"quantitative"},"y":{"datum":857,"type":"quantitative"},"y2":{"datum":1307}}},
    {"data": {"values":[{}]}, "mark": {"type":"rule","strokeWidth":1.5,"color":"black"},
     "encoding": {"x":{"datum":4.27,"type":"quantitative"},"x2":{"datum":4.36},"y":{"datum":1307,"type":"quantitative"}}},
    {"data": {"values":[{}]}, "mark": {"type":"rule","strokeWidth":1.5,"color":"black"},
     "encoding": {"x":{"datum":4.27,"type":"quantitative"},"x2":{"datum":4.36},"y":{"datum":857,"type":"quantitative"}}},
    {"data": {"values":[{}]}, "mark": {"type":"text","fontSize":11,"baseline":"middle","dy":3},
     "encoding": {"x":{"datum":4.88,"type":"quantitative"},"y":{"datum":1176,"type":"quantitative"},"text":{"value":"***"}}},
    {"data": {"values":[{}]}, "mark": {"type":"text","fontSize":11,"baseline":"middle","dy":1},
     "encoding": {"x":{"datum":4.88,"type":"quantitative"},"y":{"datum":1012,"type":"quantitative"},"text":{"value":"###"}}},
    {"data": {"values":[{}]}, "mark": {"type":"text","fontSize":15,"fontWeight":"bold","baseline":"middle"},
     "encoding": {"x":{"datum":-1.772,"type":"quantitative"},"y":{"datum":1623,"type":"quantitative"},"text":{"value":"G"}}},
    {"data": {"values":[{}]}, "mark": {"type":"text","fontSize":15,"fontWeight":"bold","baseline":"middle"},
     "encoding": {"x":{"datum":-1.772,"type":"quantitative"},"y":{"datum":4242,"type":"quantitative"},"text":{"value":"D"}}}
  ]
},
{
  "data": {"name": "au"},
  "layer": [
    {"mark": {"type":"rule","strokeWidth":2},
     "encoding": {
      "x":{"field":"t","type":"quantitative","scale":{"domain":[-1.4,252.4],"range":[305,485],"nice":false,"zero":false},
           "axis":{"orient":"bottom","offset":-38,"values":[0,50,100,150,200,250],"title":"Time (min)","tickSize":5,"labelPadding":1,"labelFontSize":12.5,"titleFontSize":13.5,"titlePadding":3}},
      "y":{"field":"lo","type":"quantitative","scale":{"domain":[0,109.4],"range":[774,652],"nice":false,"zero":false},
           "axis":{"orient":"left","offset":-305,"values":[0,50,100],"title":"AU","titleX":-29,"labelFontSize":12.5,"titleFontSize":13.5}},
      "y2":{"field":"hi"},
      "stroke":{"field":"g","type":"nominal","scale":{"domain":["WT","EP3-/-","EP3β"],"range":["black","#ef4b4b","#3ec23e"]},"legend":null}}},
    {"transform":[{"filter":"datum.hi > datum.m"}],"mark": {"type":"tick","orient":"horizontal","size":8,"thickness":2,"opacity":1},
     "encoding": {"x":{"field":"t","type":"quantitative"},"y":{"field":"hi","type":"quantitative"},
      "fill":{"field":"g","type":"nominal","scale":{"domain":["WT","EP3-/-","EP3β"],"range":["black","#ef4b4b","#3ec23e"]},"legend":null}}},
    {"transform":[{"filter":"datum.lo < datum.m"}],"mark": {"type":"tick","orient":"horizontal","size":8,"thickness":2,"opacity":1},
     "encoding": {"x":{"field":"t","type":"quantitative"},"y":{"field":"lo","type":"quantitative"},
      "fill":{"field":"g","type":"nominal","scale":{"domain":["WT","EP3-/-","EP3β"],"range":["black","#ef4b4b","#3ec23e"]},"legend":null}}},
    {"mark": {"type":"line","strokeWidth":2},
     "encoding": {"x":{"field":"t","type":"quantitative"},"y":{"field":"m","type":"quantitative"},
      "stroke":{"field":"g","type":"nominal","scale":{"domain":["WT","EP3-/-","EP3β"],"range":["black","#ef4b4b","#3ec23e"]},"legend":null}}},
    {"transform":[{"filter":"datum.g == 'WT'"}],"mark": {"type":"point","filled":true,"shape":"circle","size":45,"opacity":1},
     "encoding": {"x":{"field":"t","type":"quantitative"},"y":{"field":"m","type":"quantitative"},
      "color":{"field":"g","type":"nominal","scale":{"domain":["WT","EP3-/-","EP3β"],"range":["black","#ef4b4b","#3ec23e"]},"legend":null}}},
    {"transform":[{"filter":"datum.g == 'EP3-/-'"}],"mark": {"type":"point","filled":true,"shape":"square","size":50,"opacity":1},
     "encoding": {"x":{"field":"t","type":"quantitative"},"y":{"field":"m","type":"quantitative"},
      "color":{"field":"g","type":"nominal","scale":{"domain":["WT","EP3-/-","EP3β"],"range":["black","#ef4b4b","#3ec23e"]},"legend":null}}},
    {"transform":[{"filter":"datum.g == 'EP3β'"}],"mark": {"type":"point","filled":true,"shape":"triangle-up","size":50,"opacity":1},
     "encoding": {"x":{"field":"t","type":"quantitative"},"y":{"field":"m","type":"quantitative"},
      "color":{"field":"g","type":"nominal","scale":{"domain":["WT","EP3-/-","EP3β"],"range":["black","#ef4b4b","#3ec23e"]},"legend":null}}},
    {"data": {"values":[{}]}, "encoding": {"y":{"datum":106.7,"type":"quantitative"}}, "layer": [
      {"mark":{"type":"rule","color":"black","strokeWidth":2},"encoding":{"x":{"datum":139.6,"type":"quantitative"},"x2":{"datum":163.1}}},
      {"mark":{"type":"point","shape":"circle","filled":true,"size":45,"color":"black","opacity":1},"encoding":{"x":{"datum":151.4,"type":"quantitative"}}},
      {"mark":{"type":"text","align":"left","baseline":"middle","fontSize":14},"encoding":{"x":{"datum":174.9,"type":"quantitative"},"text":{"value":"WT"}}}
    ]},
    {"data": {"values":[{}]}, "encoding": {"y":{"datum":88.1,"type":"quantitative"}}, "layer": [
      {"mark":{"type":"rule","color":"#ef4b4b","strokeWidth":2},"encoding":{"x":{"datum":139.6,"type":"quantitative"},"x2":{"datum":163.1}}},
      {"mark":{"type":"point","shape":"square","filled":true,"size":50,"color":"#ef4b4b","opacity":1},"encoding":{"x":{"datum":151.4,"type":"quantitative"}}},
      {"mark":{"type":"text","align":"left","baseline":"middle","fontSize":14},"encoding":{"x":{"datum":174.9,"type":"quantitative"},"text":{"value":"EP3-/-"}}}
    ]},
    {"data": {"values":[{}]}, "encoding": {"y":{"datum":70.2,"type":"quantitative"}}, "layer": [
      {"mark":{"type":"rule","color":"#3ec23e","strokeWidth":2},"encoding":{"x":{"datum":139.6,"type":"quantitative"},"x2":{"datum":163.1}}},
      {"mark":{"type":"point","shape":"triangle-up","filled":true,"size":50,"color":"#3ec23e","opacity":1},"encoding":{"x":{"datum":151.4,"type":"quantitative"}}},
      {"mark":{"type":"text","align":"left","baseline":"middle","fontSize":14},"encoding":{"x":{"datum":174.9,"type":"quantitative"},"text":{"value":"EP3β"}}}
    ]},
    {"data": {"values":[{}]}, "mark": {"type":"text","fontSize":15,"fontWeight":"bold","baseline":"middle"},
     "encoding": {"x":{"datum":-40.9,"type":"quantitative"},"y":{"datum":118.3,"type":"quantitative"},"text":{"value":"H"}}},
    {"data": {"values":[{}]}, "mark": {"type":"text","fontSize":15,"fontWeight":"bold","baseline":"middle"},
     "encoding": {"x":{"datum":-35.3,"type":"quantitative"},"y":{"datum":310,"type":"quantitative"},"text":{"value":"E"}}},
    {"data": {"values":[{}]}, "mark": {"type":"text","fontSize":15,"fontWeight":"bold","baseline":"middle"},
     "encoding": {"x":{"datum":328.7,"type":"quantitative"},"y":{"datum":310,"type":"quantitative"},"text":{"value":"F"}}}
  ]
}
]
}
